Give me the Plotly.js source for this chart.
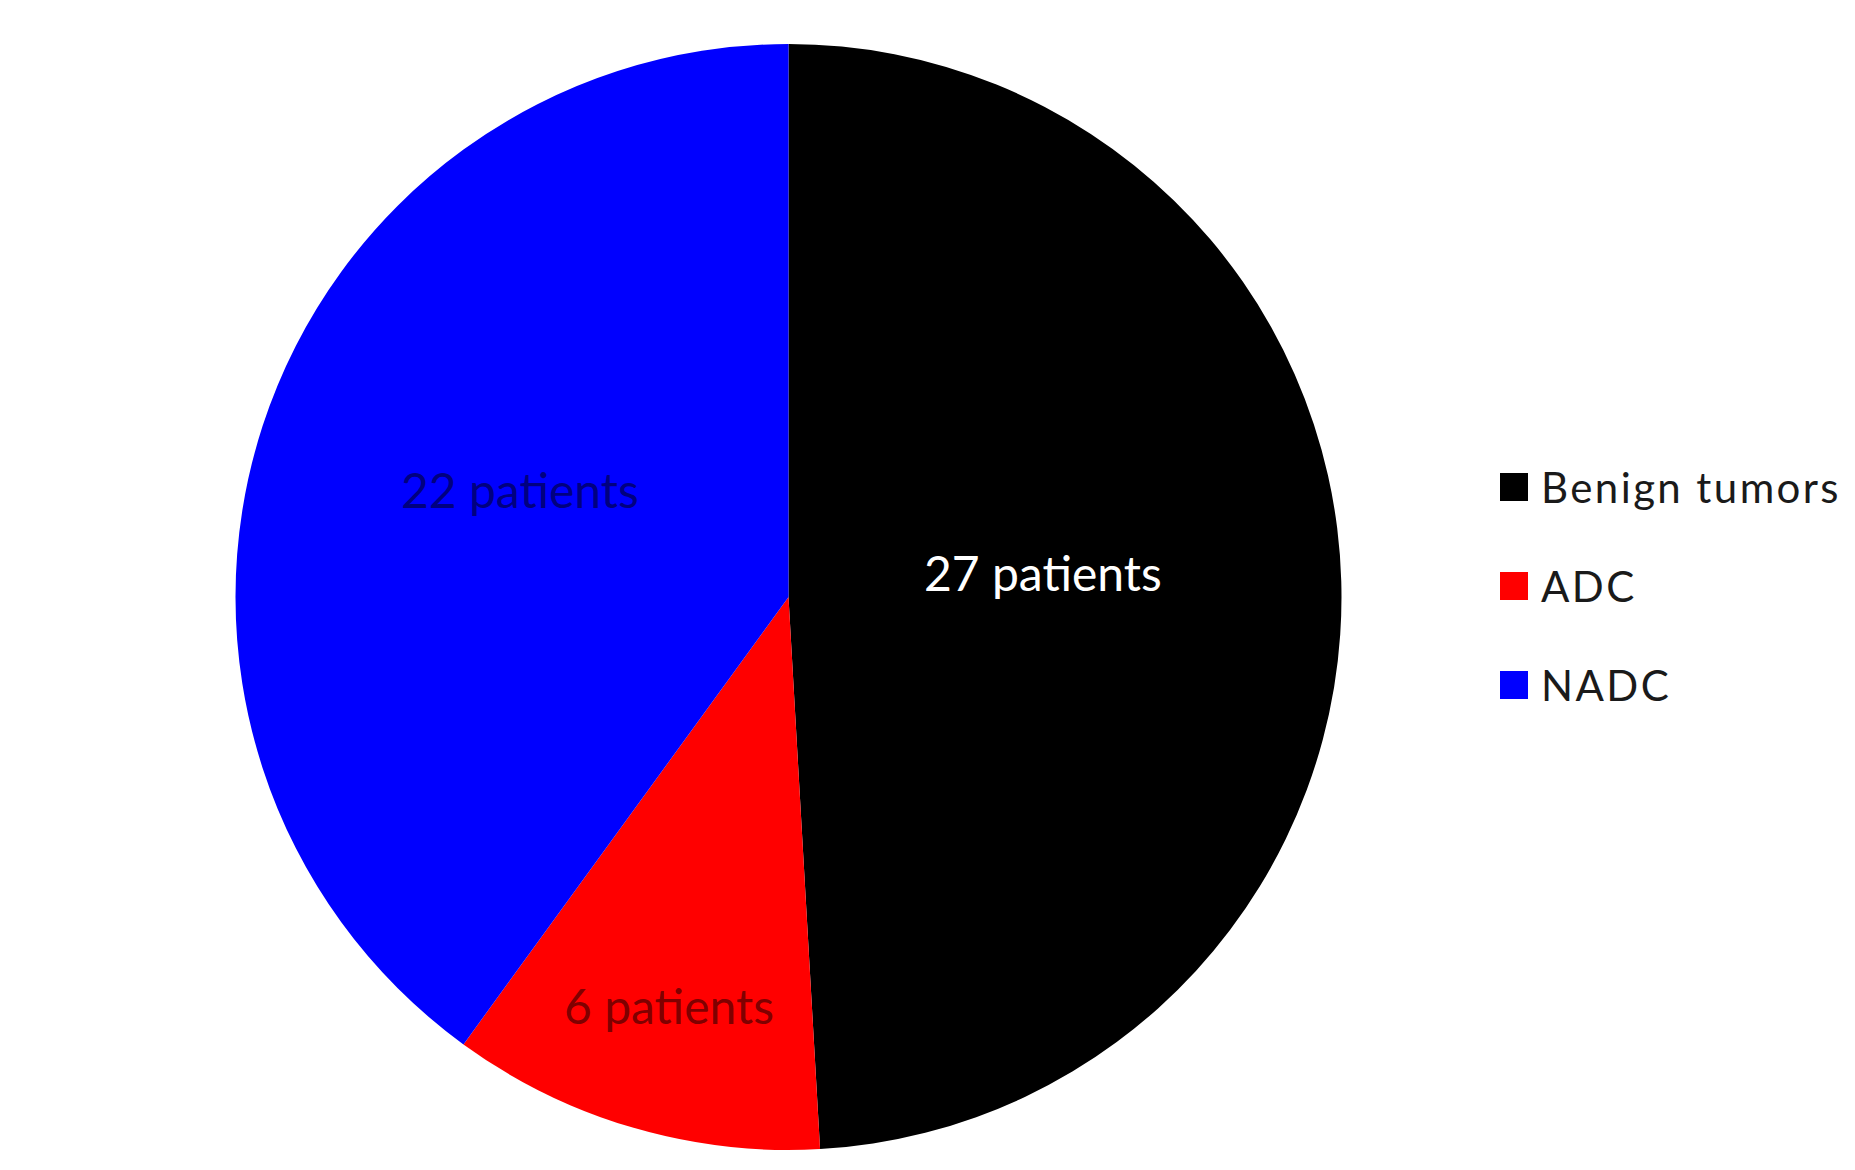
<!DOCTYPE html>
<html>
<head>
<meta charset="utf-8">
<script src="https://cdn.plot.ly/plotly-3.0.1.min.js"></script>
<style>
  html, body { margin: 0; padding: 0; background: #ffffff; }
  #chart { width: 1855px; height: 1170px; }
</style>
</head>
<body>
<div id="chart"></div>
<script>
// Patient counts by tumour type
const categories = ['Benign tumors', 'ADC', 'NADC'];
const patients = [27, 6, 22];
const sliceColors = ['#000000', '#ff0000', '#0000ff'];
const labelColors = ['#ffffff', 'rgba(40,0,0,0.6)', 'rgba(0,0,40,0.6)'];
// how far out along the radius each slice label sits, and a small vertical nudge (px)
const labelRadius = [0.46, 0.77, 0.51];
const labelYShift = [17, 0, 20];

const W = 1855, H = 1170;
const cx = 788.5, cy = 597, R = 553;

const pieTrace = {
  type: 'pie',
  labels: categories,
  values: patients,
  sort: false,
  direction: 'clockwise',
  rotation: 0,
  textinfo: 'none',
  hoverinfo: 'label+value',
  marker: { colors: sliceColors, line: { width: 0 } },
  domain: { x: [(cx - R) / W, (cx + R) / W], y: [1 - (cy + R) / H, 1 - (cy - R) / H] },
  showlegend: false
};

// slice labels placed at each slice's mid-angle
const total = patients.reduce((a, b) => a + b, 0);
const annotations = [];
let cum = 0;
patients.forEach((v, i) => {
  const mid = (cum + v / 2) / total * 2 * Math.PI;
  cum += v;
  const px = cx + Math.sin(mid) * R * labelRadius[i];
  const py = cy - Math.cos(mid) * R * labelRadius[i];
  annotations.push({
    xref: 'paper', yref: 'paper', x: px / W, y: 1 - py / H,
    xanchor: 'center', yanchor: 'middle', showarrow: false,
    yshift: labelYShift[i],
    text: v + ' patients',
    font: { family: 'Lato, sans-serif', size: 48, color: labelColors[i] }
  });
});

// legend on the right
const legX = 1500, legY0 = 487, legStep = 99, box = 28;
const shapes = [];
categories.forEach((c, i) => {
  const y = legY0 + i * legStep;
  shapes.push({
    type: 'rect', xref: 'paper', yref: 'paper',
    x0: legX / W, x1: (legX + box) / W,
    y0: 1 - (y + box / 2) / H, y1: 1 - (y - box / 2) / H,
    fillcolor: sliceColors[i], line: { width: 0 }
  });
  annotations.push({
    xref: 'paper', yref: 'paper', x: (legX + 39) / W, y: 1 - y / H,
    xanchor: 'left', yanchor: 'middle', showarrow: false,
    text: c,
    font: { family: 'Lato, sans-serif', size: 42, color: '#1a1a1a' }
  });
});

const layout = {
  width: W, height: H,
  margin: { l: 0, r: 0, t: 0, b: 0 },
  paper_bgcolor: '#ffffff',
  plot_bgcolor: '#ffffff',
  showlegend: false,
  shapes: shapes,
  annotations: annotations
};

Plotly.newPlot('chart', [pieTrace], layout, { displayModeBar: false, staticPlot: true }).then(gd => {
  // widen the tracking of the legend entries, keeping their left edge fixed
  gd.querySelectorAll('.annotation').forEach(g => {
    const idx = +g.getAttribute('data-index');
    if (idx >= patients.length) {
      g.querySelectorAll('text.annotation-text').forEach(t => {
        const w = t.getComputedTextLength();
        const x = parseFloat(t.getAttribute('x')) || 0;
        t.setAttribute('x', x - w / 2);
        t.style.textAnchor = 'start';
        t.setAttribute('text-anchor', 'start');
        t.style.letterSpacing = '2.4px';
      });
    }
  });
});
</script>
</body>
</html>
